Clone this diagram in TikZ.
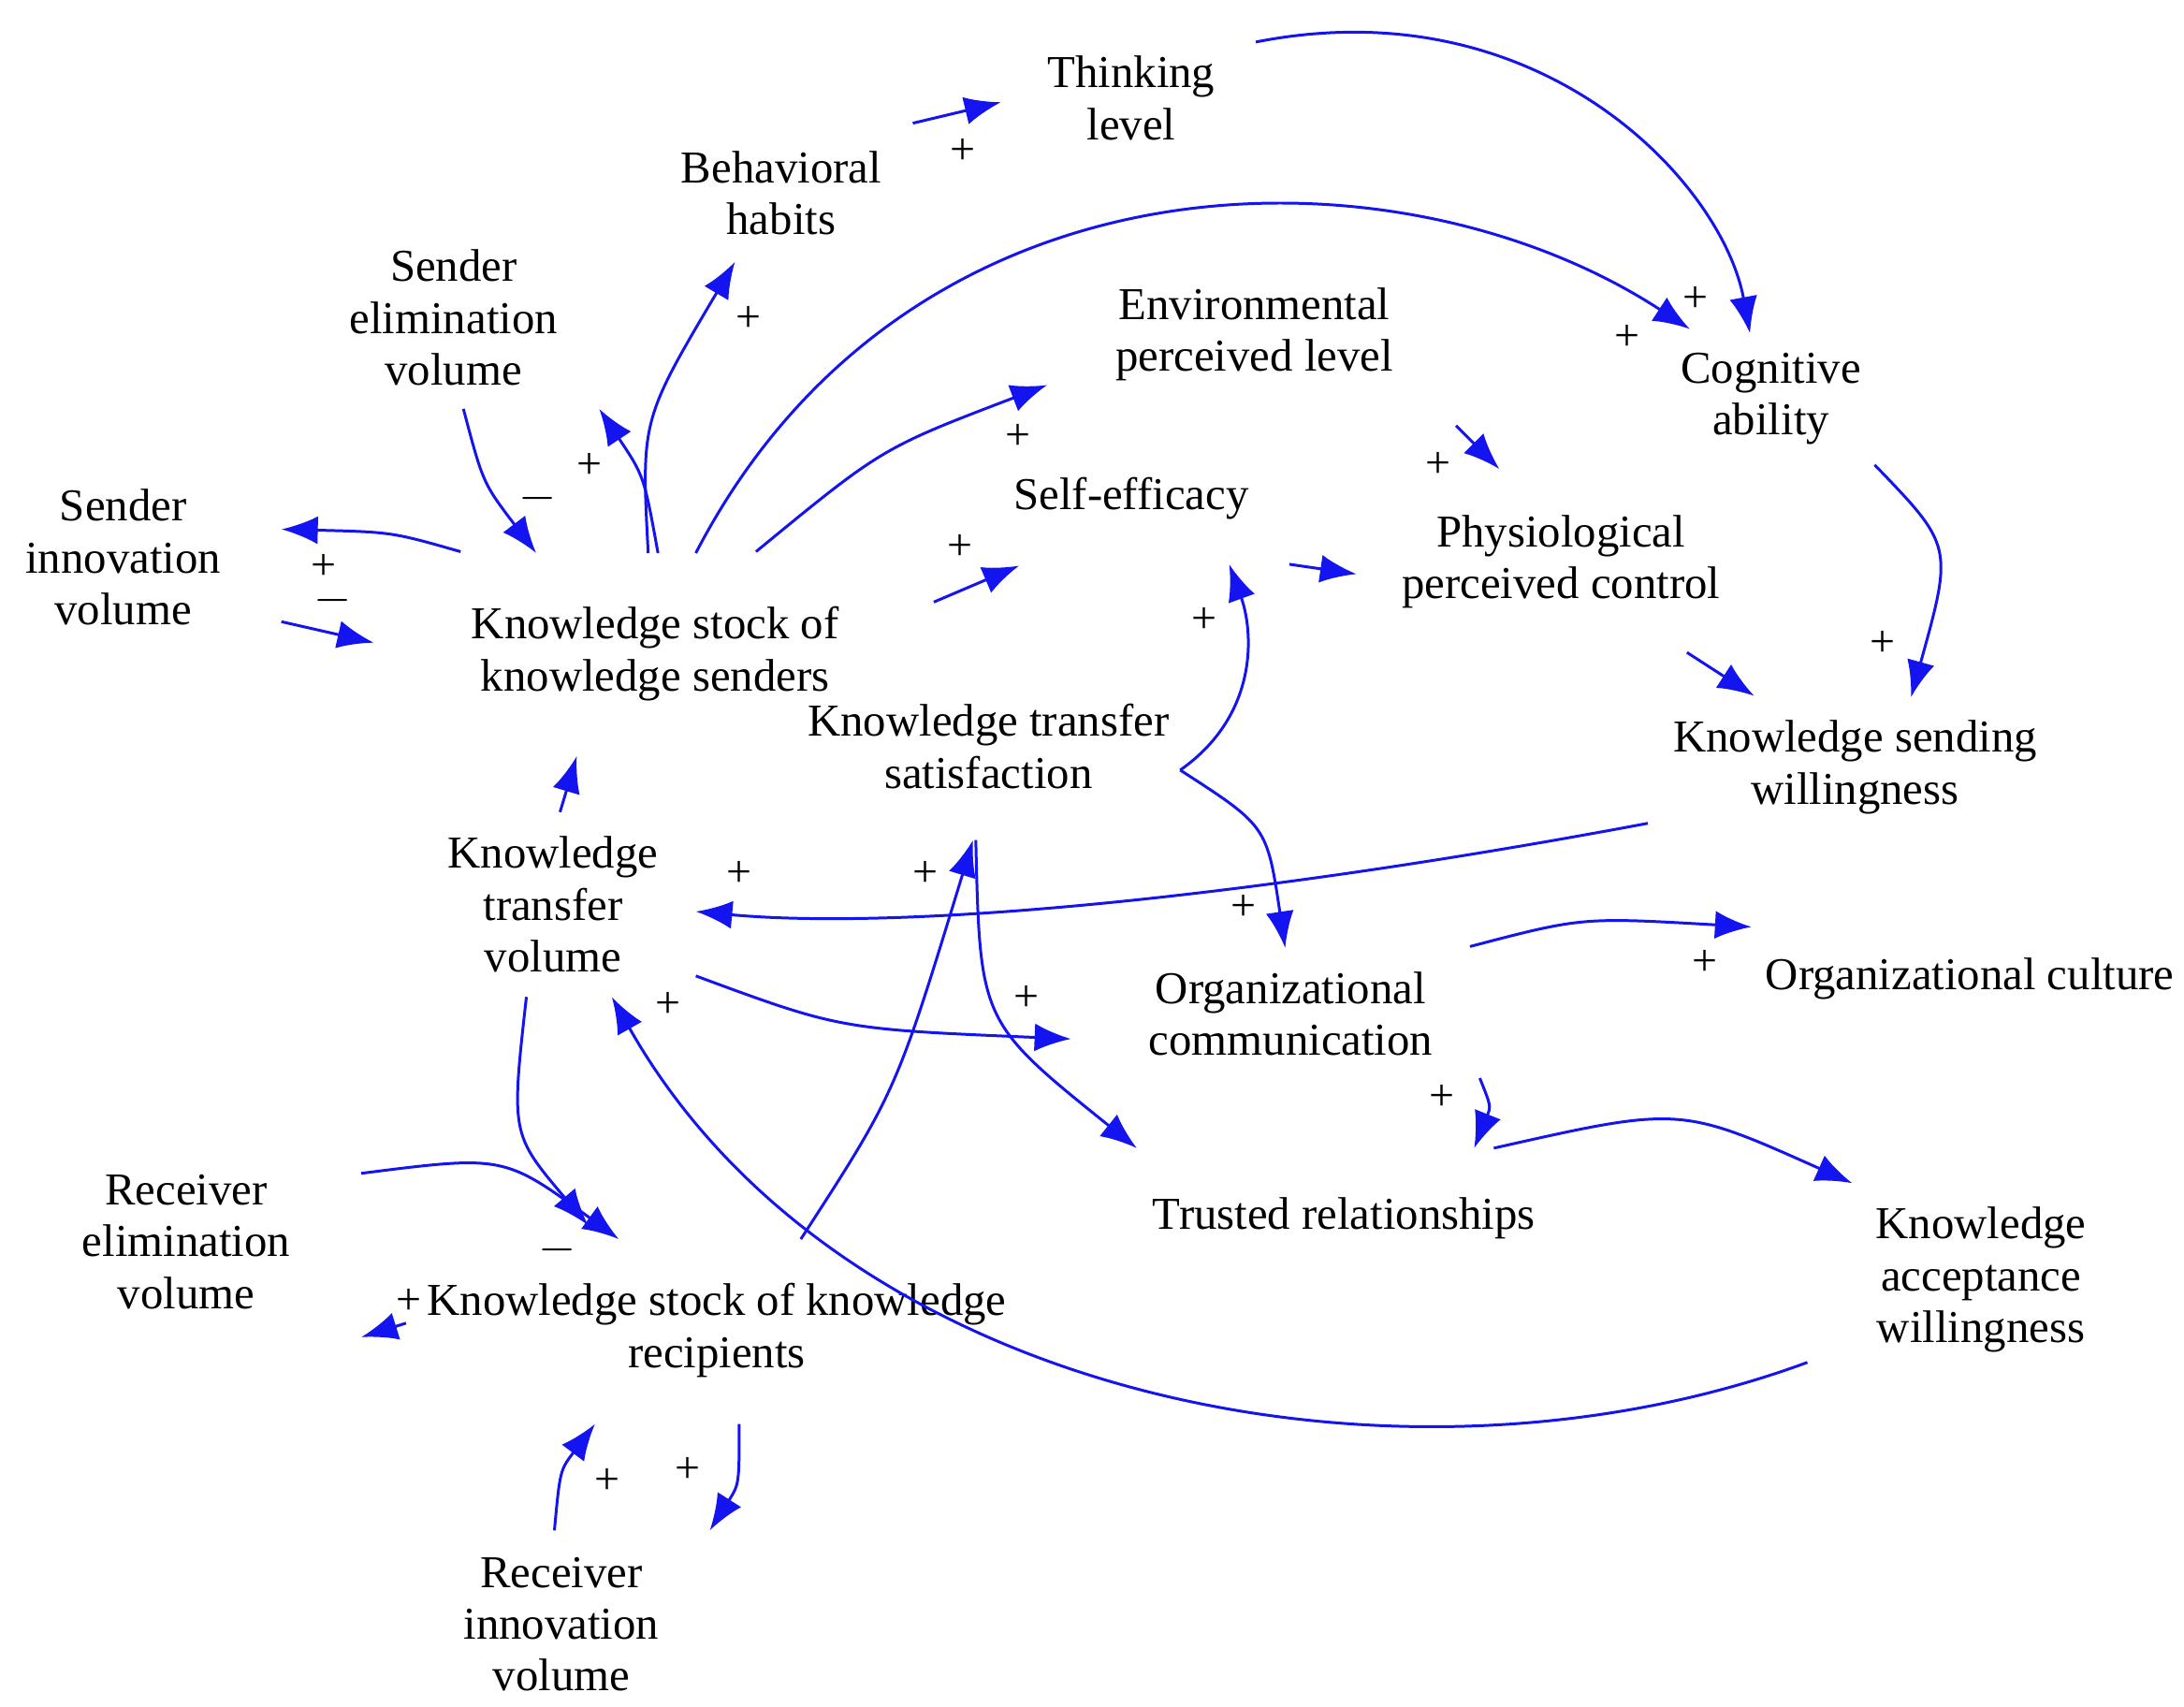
\documentclass[tikz,border=0pt]{standalone}
\usepackage{fontspec}
\setmainfont{Liberation Serif}
\usetikzlibrary{arrows.meta}
\begin{document}
\begin{tikzpicture}[x=0.5pt,y=-0.5pt,
  lab/.style={font=\fontsize{16.3}{18.5}\selectfont,align=center,inner sep=0pt},
  pl/.style={font=\fontsize{16}{16}\selectfont,inner sep=0pt},
  ar/.style={draw={rgb,255:red,20;green,20;blue,240},line width=1pt,-{Latex[length=13pt,width=10pt]}}]
\useasboundingbox (0,0) rectangle (1560,1219);
\node[lab] (tl) at (808,70) {Thinking\\level};
\node[lab] (bh) at (558,138) {Behavioral\\habits};
\node[lab] (se) at (324,227) {Sender\\elimination\\volume};
\node[lab] (ep) at (896,239) {Environmental\\perceived level};
\node[lab] (ca) at (1265,285) {Cognitive\\ability};
\node[lab] (si) at (88,398) {Sender\\innovation\\volume};
\node[lab] (sf) at (808,356) {Self-efficacy};
\node[lab] (pc) at (1115,401) {Physiological\\perceived control};
\node[lab] (ks) at (468,467) {Knowledge stock of\\knowledge senders};
\node[lab] (ts) at (706,533) {Knowledge transfer\\satisfaction};
\node[lab] (sw) at (1325,548) {Knowledge sending\\willingness};
\node[lab] (tv) at (395,646) {Knowledge\\transfer\\volume};
\node[lab] (oc) at (922,724) {Organizational\\communication};
\node[lab] (cu) at (1407,699) {Organizational culture};
\node[lab] (tr) at (960,870) {Trusted relationships};
\node[lab] (aw) at (1415,914) {Knowledge\\acceptance\\willingness};
\node[lab] (re) at (133,887) {Receiver\\elimination\\volume};
\node[lab] (kr) at (512,950) {Knowledge stock of knowledge\\recipients};
\node[lab] (ri) at (401,1160) {Receiver\\innovation\\volume};
% arrows
\draw[ar] (652,88) -- (715,73);
\draw[ar] (897,30) .. controls (1100,-10) and (1230,130) .. (1250,238);
\draw[ar] (497,395) .. controls (650,100) and (1000,100) .. (1207,235);
\draw[ar] (463,395) .. controls (458,300) .. (525,187);
\draw[ar] (470,395) .. controls (460,340) .. (428,292);
\draw[ar] (331,292) .. controls (345,345) .. (383,395);
\draw[ar] (329,394) .. controls (280,380) .. (201,378);
\draw[ar] (201,444) -- (267,459);
\draw[ar] (540,394) .. controls (630,320) .. (748,275);
\draw[ar] (667,430) -- (728,404);
\draw[ar] (921,403) -- (969,410);
\draw[ar] (1040,304) -- (1071,335);
\draw[ar] (1339,332) .. controls (1395,390) .. (1365,498);
\draw[ar] (1205,466) -- (1253,497);
\draw[ar] (1177,588) .. controls (900,640) and (650,665) .. (497,651);
\draw[ar] (400,580) -- (412,540);
\draw[ar] (843,550) .. controls (900,510) and (895,450) .. (878,403);
\draw[ar] (843,550) .. controls (905,590) .. (918,677);
\draw[ar] (497,697) .. controls (600,735) .. (765,742);
\draw[ar] (697,600) .. controls (700,730) .. (812,820);
\draw[ar] (572,885) .. controls (640,780) .. (695,600);
\draw[ar] (376,712) .. controls (365,810) .. (420,875);
\draw[ar] (258,838) .. controls (360,825) .. (442,885);
\draw[ar] (290,945) -- (258,955);
\draw[ar] (396,1093) .. controls (400,1050) .. (425,1017);
\draw[ar] (528,1017) .. controls (528,1060) .. (507,1093);
\draw[ar] (1291,973) .. controls (1000,1080) and (600,1000) .. (437,712);
\draw[ar] (1050,676) .. controls (1130,655) .. (1251,662);
\draw[ar] (1057,770) .. controls (1065,790) .. (1053,820);
\draw[ar] (1067,820) .. controls (1200,790) .. (1323,845);
% polarity signs
\foreach \x/\y/\s in {688/108/+,535/228/+,421/333/+,384/356/$-$,231/405/+,238/429/$-$,
  727/312/+,686/391/+,1027/332/+,1162/241/+,1211/214/+,1345/460/+,860/443/+,528/624/+,
  661/624/+,888/648/+,733/713/+,477/718/+,1218/688/+,1030/784/+,398/893/$-$,292/930/+,
  434/1058/+,491/1050/+}
  \node[pl] at (\x,\y) {\s};
\end{tikzpicture}
\end{document}
